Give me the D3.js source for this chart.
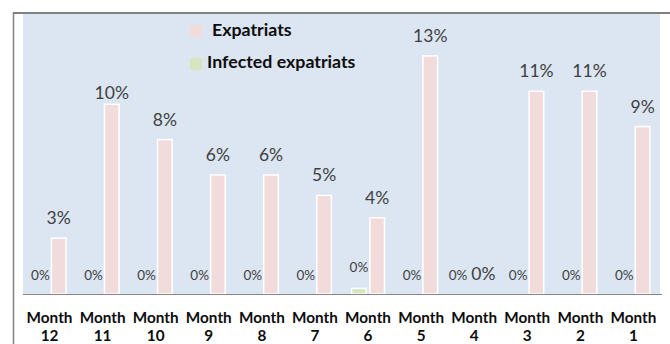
<!DOCTYPE html>
<html>
<head>
<meta charset="utf-8">
<script src="https://cdn.jsdelivr.net/npm/d3@7"></script>
<style>
  html, body { margin: 0; padding: 0; background: #ffffff; }
  svg { display: block; font-family: Lato, "Open Sans", sans-serif; }
</style>
</head>
<body>
<svg id="chart" width="670" height="344"></svg>
<script>
// ---- data ----
const months = ["12", "11", "10", "9", "8", "7", "6", "5", "4", "3", "2", "1"];
const seriesNames = ["Infected expatriats", "Expatriats"];
const expatriats = [3.0, 10.2, 8.3, 6.4, 6.4, 5.3, 4.1, 12.8, 0, 10.9, 10.9, 9.0];
const infected = [0, 0, 0, 0, 0, 0, 0.3, 0, 0, 0, 0, 0];
const colors = { "Expatriats": "#f2dcdb", "Infected expatriats": "#d7e4bd" };

// ---- layout ----
const svg = d3.select("#chart");
const plot = { left: 23, right: 660, top: 14, bottom: 294 };

const x = d3.scaleBand().domain(months).range([plot.left, plot.right])
  .paddingInner(0.38).paddingOuter(0.19);
const xs = d3.scaleBand().domain(seriesNames).range([0, x.bandwidth()]).paddingInner(0.2);
const y = d3.scaleLinear().domain([0, 15]).range([plot.bottom, plot.top + 1]);

// outer frame
svg.append("line").attr("x1", 13).attr("x2", 670).attr("y1", 13).attr("y2", 13)
  .attr("stroke", "#808080").attr("stroke-width", 2);
svg.append("line").attr("x1", 13.5).attr("x2", 13.5).attr("y1", 12).attr("y2", 344)
  .attr("stroke", "#808080").attr("stroke-width", 1.5);

// plot background
svg.append("rect").attr("x", plot.left).attr("y", plot.top)
  .attr("width", plot.right - plot.left).attr("height", plot.bottom - plot.top)
  .attr("fill", "#dce6f2");

const rows = months.map((m, i) => ({ m, "Expatriats": expatriats[i], "Infected expatriats": infected[i] }));

const groups = svg.append("g").selectAll("g").data(rows).join("g")
  .attr("transform", d => `translate(${x(d.m)},0)`);

groups.selectAll("rect").data(d => seriesNames.map(s => ({ s, v: d[s] })).filter(e => e.v > 0))
  .join("rect")
  .attr("x", e => xs(e.s))
  .attr("width", xs.bandwidth())
  .attr("y", e => y(e.v))
  .attr("height", e => y(0) - y(e.v))
  .attr("fill", e => colors[e.s])
  .attr("stroke", "#ffffff")
  .attr("stroke-width", 1.5);

// data labels (the "Month 11" label sits closer to its bar in the original)
groups.each(function(d) {
  const g = d3.select(this);
  const inf = d["Infected expatriats"], exp = d["Expatriats"];
  const shift = (inf === 0 && exp === 0) ? -7 : 0;
  g.append("text")
    .attr("x", xs("Infected expatriats") + xs.bandwidth() / 2 + shift)
    .attr("y", y(inf) - (inf > 0 ? 16 : 14))
    .attr("text-anchor", "middle")
    .attr("font-size", 13.5)
    .attr("fill", "#404040")
    .text(Math.round(inf) + "%");
  g.append("text")
    .attr("x", xs("Expatriats") + xs.bandwidth() / 2)
    .attr("y", y(exp) - (d.m === "11" ? 5 : 14))
    .attr("text-anchor", "middle")
    .attr("font-size", 17.5)
    .attr("fill", "#404040")
    .text(Math.round(exp) + "%");
});

// x axis
const xAxis = d3.axisBottom(x).tickSize(0).tickFormat("");
const ax = svg.append("g").attr("transform", `translate(0,${plot.bottom})`).call(xAxis);
ax.select(".domain").attr("stroke", "#868686").attr("d", `M${plot.left},0.5H${plot.right + 2}`);

const tick = svg.append("g").selectAll("text").data(months).join("text")
  .attr("text-anchor", "middle")
  .attr("font-weight", "bold")
  .attr("font-size", 15.3)
  .attr("fill", "#0d0d0d");
tick.append("tspan").attr("x", m => x(m) + x.bandwidth() / 2).attr("y", 323).text("Month");
tick.append("tspan").attr("x", m => x(m) + x.bandwidth() / 2).attr("y", 341).text(m => m);

// legend
const legend = svg.append("g");
const legendItems = [
  { name: "Expatriats", sy: 25, tx: 212, ty: 36 },
  { name: "Infected expatriats", sy: 58, tx: 207, ty: 68 }
];
legend.selectAll("rect").data(legendItems).join("rect")
  .attr("x", 190).attr("y", d => d.sy).attr("width", 12).attr("height", 12)
  .attr("fill", d => colors[d.name]);
legend.selectAll("text").data(legendItems).join("text")
  .attr("x", d => d.tx).attr("y", d => d.ty)
  .attr("font-weight", "bold").attr("font-size", 17.8).attr("fill", "#0d0d0d")
  .text(d => d.name);
</script>
</body>
</html>
